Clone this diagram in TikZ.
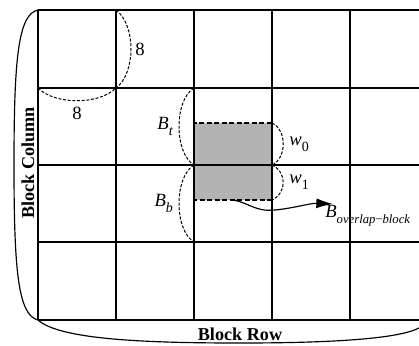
\documentclass[tikz,border=0pt]{standalone}
\usepackage{fontspec}
\setmainfont{Liberation Serif}
\usetikzlibrary{arrows.meta}
\definecolor{blockgray}{HTML}{B3B3B3}
\newcommand{\isub}[2]{\textit{#1}\raisebox{-0.3em}{\fontsize{8.4}{10}\selectfont #2}}

\begin{document}
\begin{tikzpicture}[x=0.6pt,y=-0.6pt,font=\fontsize{11.2}{13}\selectfont,
    gridline/.style={line width=1.2pt},
    sizearc/.style={line width=0.6pt,dash pattern=on 1.8pt off 1pt},
    blocklabel/.style={font=\fontsize{10.9}{13}\selectfont\bfseries}]
  \useasboundingbox (0,0) rectangle (419,345);
  % overlap block
  \fill[blockgray] (194,123) rectangle (272,200);
  % grid of blocks
  \foreach \x in {38,116,194,272,350}
    \draw[gridline] (\x,10) -- (\x,320);
  \foreach \y in {10,88,165,242,320}
    \draw[gridline] (38,\y) -- (419,\y);
  \draw[line width=1.1pt,dash pattern=on 3pt off 1.5pt] (194,123) rectangle (272,200);
  % block size
  \coordinate (tl) at (116,10);
  \coordinate (ml) at (116,88);
  \coordinate (ll) at (38,88);
  \draw[sizearc] (tl) .. controls +(20,15) and +(20,-15) .. (ml)
    node[midway,right=-1pt] (eightv) {8};
  \draw[sizearc] (ll) .. controls +(17,17) and +(-17,17) .. (ml)
    node[midway,below=0pt] (eighth) {8};
  % top and bottom parts
  \coordinate (bt) at (194,88);
  \coordinate (bm) at (194,165);
  \coordinate (bb) at (194,242);
  \draw[sizearc] (bt) .. controls +(-20,12) and +(-20,-12) .. (bm)
    node[midway,left=0pt] (btlabel) {\isub{B}{\textit{t}}};
  \draw[sizearc] (bm) .. controls +(-20,12) and +(-20,-12) .. (bb)
    node[midway,left=0pt] (bblabel) {\isub{B}{\textit{b}}};
  % overlap widths
  \coordinate (wt) at (272,123);
  \coordinate (wm) at (272,165);
  \coordinate (wb) at (272,200);
  \draw[sizearc] (wt) .. controls +(15,7) and +(15,-7) .. (wm)
    node[midway,right=0pt] (wzero) {\isub{w}{0}};
  \draw[sizearc] (wm) .. controls +(15,7) and +(15,-7) .. (wb)
    node[midway,right=0pt] (wone) {\isub{w}{1}};
  % overlap block label
  \coordinate (arrowstart) at (233,200);
  \coordinate (arrowtip) at (333,204);
  \node[anchor=west,inner sep=0pt] (overlap) at (325,216)
    {\textit{B}\raisebox{-0.3em}{\fontsize{7.6}{9}\selectfont\textit{overlap}−\textit{block}}};
  \draw[line width=0.7pt,-{Latex[length=10pt,width=6pt]}] (arrowstart)
    .. controls (250,203) and (255,212) .. (275,210)
    .. controls (295,208) and (310,203) .. (arrowtip);
  % block column and block row
  \coordinate (gridtl) at (38,10);
  \coordinate (gridbl) at (38,320);
  \coordinate (gridbr) at (419,328);
  \draw[line width=0.7pt] (gridtl) .. controls (18,14) and (14,60) .. (14,165)
    .. controls (14,270) and (18,315) .. (gridbl);
  \draw[line width=0.7pt] (gridbl) .. controls (60,340) and (150,343) .. (240,343)
    .. controls (340,343) and (400,338) .. (gridbr);
  \node[blocklabel,rotate=90] (column) at (28,163) {Block Column};
  \node[blocklabel] (row) at (240,334) {Block Row};
\end{tikzpicture}
\end{document}
